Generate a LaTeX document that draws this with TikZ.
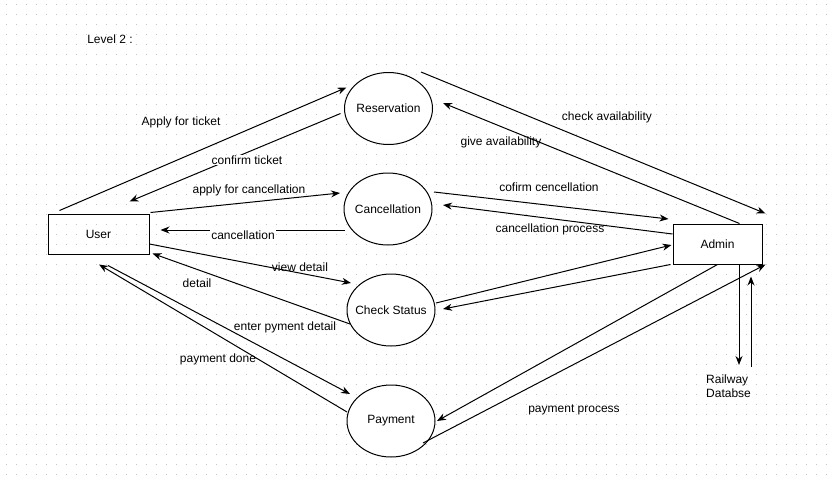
\documentclass[tikz,border=0pt]{standalone}
\usepackage{fontspec}
\setmainfont{Liberation Sans}
\usetikzlibrary{arrows.meta,shapes.geometric,calc}
\begin{document}
\begin{tikzpicture}[x=1pt,y=-1pt,
  font=\fontsize{12}{13.5}\selectfont,
  flow/.style={draw=black, line width=1pt, -{Stealth[length=9pt,width=7pt]}},
  proc/.style={draw, ellipse, line width=1pt, minimum width=88pt, minimum height=72pt, inner sep=0pt},
  ent/.style={draw, rectangle, line width=1pt, inner sep=0pt},
  lbl/.style={inner sep=1pt},
  lblw/.style={inner sep=1pt, fill=white},
]
\useasboundingbox (0,0) rectangle (830,482);
\fill[white] (0,0) rectangle (830,482);
\foreach \k in {0,...,47}
  \draw[gray!45, line width=1pt, dash pattern=on 1pt off 9pt] (5.5,4.5+10*\k) -- (830,4.5+10*\k);

\node[lbl] (title) at (110,39) {Level 2 :};

% entities
\node[ent, minimum width=101pt, minimum height=40pt] (user) at (98.5,234) {User};
\node[ent, fill=white, minimum width=89pt, minimum height=40pt] (admin) at (717.5,244) {Admin};
\node[inner sep=0pt, align=left, anchor=north west] (db) at (706,375) {Railway\\Databse};

% processes
\node[proc, fill=white, label=center:Reservation] (res) at (388.5,108.5) {};
\node[proc, fill=white, label=center:Cancellation] (canc) at (388,209) {};
\node[proc, fill=white, label=center:Check Status] (chk) at (391,310) {};
\node[proc, fill=white, label=center:Payment] (pay) at (391,421) {};

% user <-> reservation
\draw[flow] ($(user.north west)+(12,-3)$) -- ($(res.center)+(-42,-21)$);
\draw[flow] ($(res.center)+(-48,5)$) -- ($(user.north west)+(82,-12)$);
% user <-> cancellation
\draw[flow] ($(user.north east)+(1,-1)$) -- ($(canc.center)+(-48,-16)$);
\draw[flow] ($(canc.center)+(-43,21)$) -- ($(user.east)+(11,-4)$);
% user <-> check status
\draw[flow] ($(user.east)+(0,10)$) -- ($(chk.center)+(-40,-27)$);
\draw[flow] ($(chk.center)+(-41,14)$) -- ($(user.south east)+(3,-1)$);
% user <-> payment
\draw[flow] ($(user.south)+(9.5,11)$) -- ($(pay.center)+(-41,-27)$);
\draw[flow] ($(pay.center)+(-44,-9)$) -- ($(user.south)+(0.5,10)$);

% reservation <-> admin
\draw[flow] ($(res.center)+(32.5,-36.5)$) -- ($(admin.north east)+(3,-10)$);
\draw[flow] ($(admin.north)+(22,0)$) -- ($(res.center)+(54.5,-5.5)$);
% cancellation <-> admin
\draw[flow] ($(canc.center)+(46,-17)$) -- ($(admin.west)+(-4,-25)$);
\draw[flow] ($(admin.west)+(0,-10)$) -- ($(canc.center)+(55,-4)$);
% check status <-> admin
\draw[flow] ($(chk.center)+(45,-7)$) -- ($(admin.west)+(-1,1)$);
\draw[flow] ($(admin.south west)+(-2,0)$) -- ($(chk.center)+(52,-1)$);
% payment <-> admin
\draw[flow] (admin.south) -- ($(pay.center)+(46,0)$);
\draw[flow] ($(pay.center)+(32,22)$) -- ($(admin.south east)+(3,0)$);
% admin <-> database
\draw[flow] ($(admin.south)+(21.5,0)$) -- ($(db.north west)+(33,-10)$);
\draw[flow] ($(db.north west)+(45,-8)$) -- ($(admin.south)+(33.5,12)$);

% labels
\node[lbl] (l1) at (181,122) {Apply for ticket};
\node[lblw] (l2) at (247,160) {confirm ticket};
\node[lbl] (l3) at (249,190) {apply for cancellation};
\node[lblw] (l4) at (243,235) {cancellation};
\node[lbl] (l5) at (300,267) {view detail};
\node[lbl] (l6) at (197,283) {detail};
\node[lbl] (l7) at (285,327) {enter pyment detail};
\node[lbl] (l8) at (218,359) {payment done};
\node[lbl] (l9) at (607,117) {check availability};
\node[lbl] (l10) at (501,142) {give availability};
\node[lbl] (l11) at (549,187) {cofirm cencellation};
\node[lbl] (l12) at (550,229) {cancellation process};
\node[lbl] (l13) at (574,410) {payment process};
\end{tikzpicture}
\end{document}
